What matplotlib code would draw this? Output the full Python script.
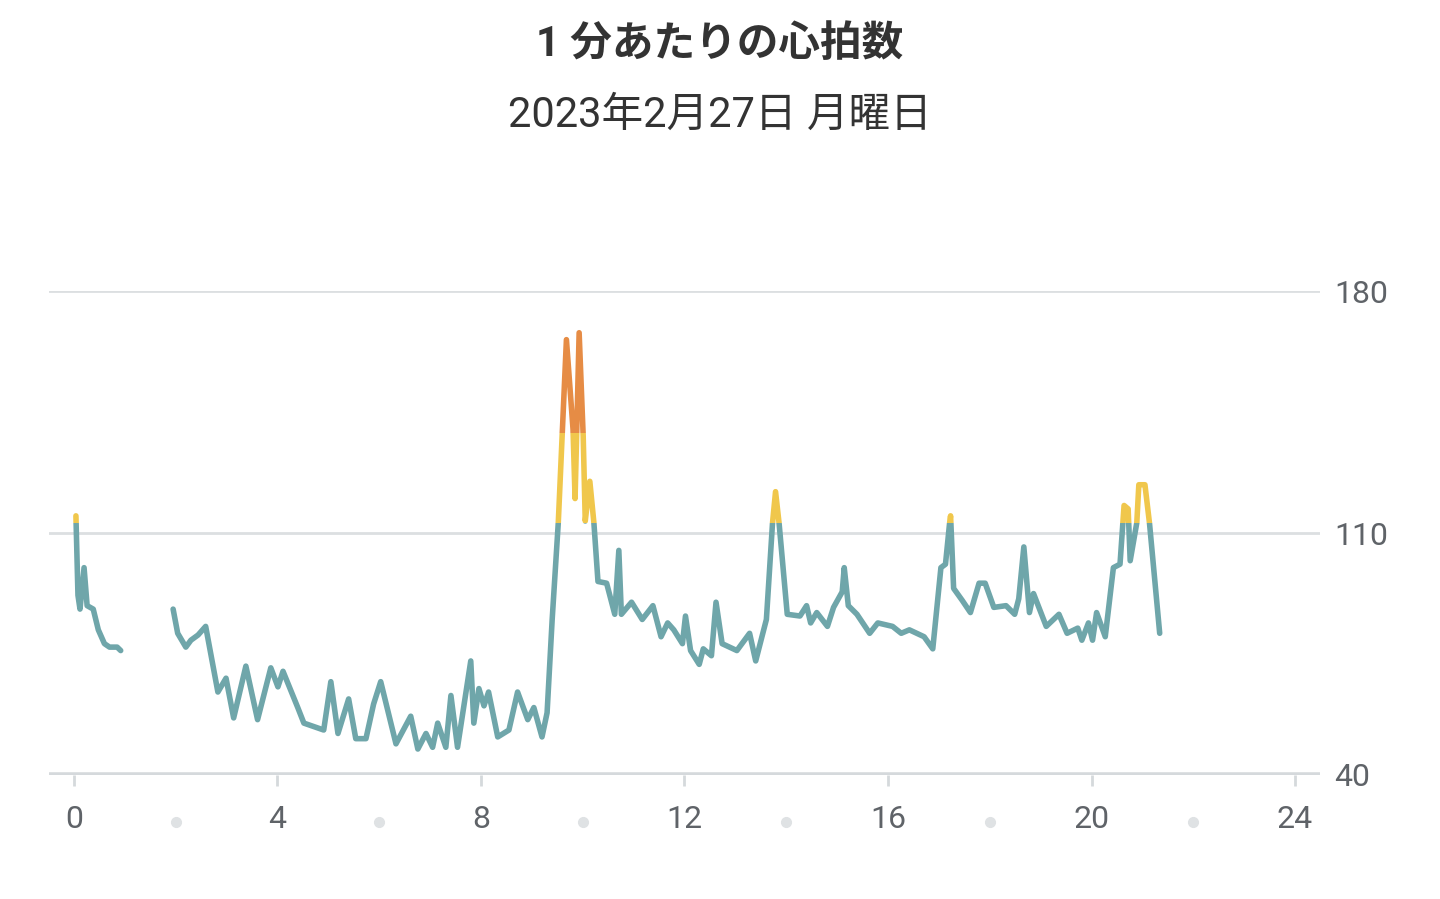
import numpy as np
import matplotlib
matplotlib.use("Agg")
import matplotlib.pyplot as plt
from matplotlib.patches import Rectangle

plt.rcParams['font.family'] = ['Roboto', 'Noto Sans CJK JP', 'DejaVu Sans']

seg1_h = [0.04, 0.08, 0.12, 0.2, 0.26, 0.38, 0.48, 0.6, 0.7, 0.85, 0.92]
seg1_v = [115, 92, 88, 100, 89, 88, 82, 78, 77, 77, 76]

seg2_h = [1.95, 2.04, 2.20, 2.30, 2.44, 2.59, 2.83, 2.99, 3.14, 3.38, 3.61, 3.87, 4.01, 4.11,
          4.40, 4.52, 4.91, 5.05, 5.19, 5.40, 5.54, 5.74, 5.89, 6.03, 6.33, 6.62, 6.76, 6.92,
          7.05, 7.15, 7.31, 7.41, 7.54, 7.80, 7.86, 7.96, 8.06, 8.15, 8.33, 8.55, 8.72, 8.92,
          9.04, 9.20, 9.30, 9.40, 9.52, 9.68, 9.81, 9.85, 9.93, 10.01, 10.05, 10.14, 10.22,
          10.30, 10.47, 10.63, 10.71, 10.76, 10.96, 11.17, 11.38, 11.54, 11.67, 11.79, 11.96,
          12.02, 12.12, 12.29, 12.37, 12.53, 12.62, 12.74, 13.03, 13.28, 13.40, 13.61, 13.73,
          13.79, 13.86, 14.02, 14.27, 14.40, 14.48, 14.60, 14.81, 14.93, 15.10, 15.14, 15.22,
          15.39, 15.64, 15.80, 16.09, 16.26, 16.42, 16.71, 16.88, 17.04, 17.13, 17.21, 17.23,
          17.29, 17.46, 17.62, 17.79, 17.91, 18.08, 18.32, 18.49, 18.57, 18.67, 18.78, 18.86,
          19.11, 19.36, 19.52, 19.73, 19.81, 19.94, 20.02, 20.10, 20.27, 20.43, 20.56, 20.64,
          20.72, 20.76, 20.89, 20.93, 21.05, 21.14, 21.34]
seg2_v = [88, 81, 77, 79, 80.5, 83, 64, 68, 56.5, 71.5, 56, 71, 65.5, 70,
          59.5, 55, 53, 67, 52, 62, 50.5, 50.5, 60.5, 67, 49, 57, 47.5, 52,
          48, 55, 48, 63, 48, 73, 55, 65, 60, 64, 51, 53, 64, 56,
          59.5, 51, 58, 85, 113, 166, 140, 120, 168, 138, 113.5, 125, 113,
          96, 95.5, 86.5, 105, 86.5, 90, 85, 89, 80, 84, 82, 78,
          86, 76, 72, 76.5, 74.5, 90, 78, 76, 81, 73, 85, 112.8,
          122, 112.8, 86.5, 86, 89, 84, 87, 83, 88.5, 93, 100, 89,
          86.5, 81, 84, 83, 81, 82, 80, 76.5, 100, 101, 112.8, 115,
          94, 90.5, 87, 95.5, 95.5, 88.5, 89, 86.5, 91, 106, 87, 92.5,
          83, 86.5, 81, 82.5, 79, 84, 79, 87, 80, 100, 101, 118,
          117, 102, 113, 124, 124, 112.8, 81]

x_ticks = [0, 4, 8, 12, 16, 20, 24]
x_dots = [2, 6, 10, 14, 18, 22]
y_ticks = [40, 110, 180]
zones = [(0, 113, '#6fa6aa'), (113, 139, '#f0c74c'), (139, 300, '#e68c45')]

fig = plt.figure(figsize=(14.4, 8.99), dpi=100)
ax = fig.add_axes([0.034, 0.138, 0.883, 0.538])
ax.set_xlim(-0.49, 24.5)
ax.set_ylim(40, 180)

for h, v in [(seg1_h, seg1_v), (seg2_h, seg2_v)]:
    for lo, hi, c in zones:
        ln, = ax.plot(h, v, color=c, lw=4, solid_joinstyle='round', solid_capstyle='round', zorder=3)
        r = Rectangle((-5, lo), 40, hi - lo, transform=ax.transData)
        ln.set_clip_path(r)

for y in (110, 180):
    ax.axhline(y, color='#dcdfe1', lw=2, zorder=1)
ax.axhline(40, color='#d5d9dc', lw=4, zorder=2)

for s in ax.spines.values():
    s.set_visible(False)
ax.set_yticks(y_ticks)
ax.set_yticklabels([str(t) for t in y_ticks])
ax.yaxis.tick_right()
ax.tick_params(axis='y', length=0, labelsize=23, labelcolor='#5f6368', pad=10)
ax.set_xticks(x_ticks)
ax.set_xticklabels([str(t) for t in x_ticks])
ax.tick_params(axis='x', length=8, width=2, color='#d5d9dc', labelsize=23, labelcolor='#5f6368', pad=14)
for d in x_dots:
    ax.plot([d], [26.5], 'o', color='#dfe2e4', ms=7, clip_on=False)

fig.text(0.5, 0.95, '1 分あたりの心拍数', ha='center', va='center', fontsize=30, fontweight='bold', color='#333333')
fig.text(0.5, 0.872, '2023年2月27日 月曜日', ha='center', va='center', fontsize=30, color='#333333')

fig.savefig('out.png', dpi=100, facecolor='white')
